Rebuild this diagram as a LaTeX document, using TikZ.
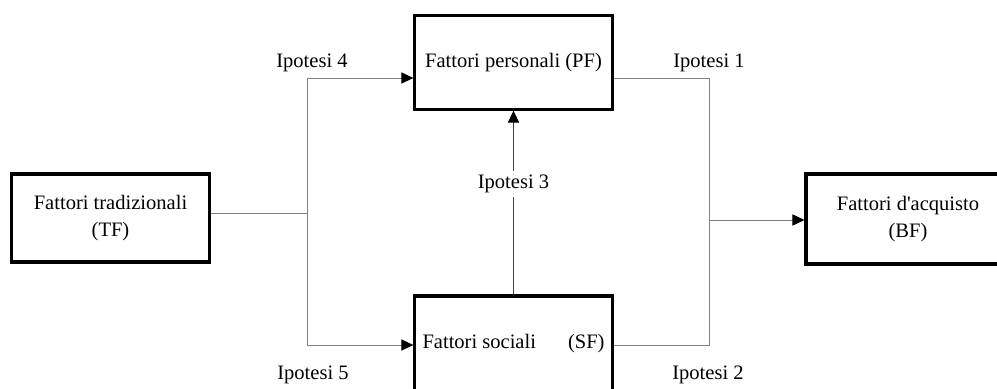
\documentclass[tikz,border=0pt]{standalone}
\usepackage{fontspec}
\setmainfont{Liberation Serif}
\usetikzlibrary{arrows.meta,positioning}
\tikzset
{
    factorbox/.style = {rectangle, draw=black, line width=2.2pt, align=center, inner sep=0pt},
    link/.style      = {draw=black!50, line width=0.7pt},
    arrowlink/.style = {-{Triangle[length=0.3cm,width=0.28cm,color=black]}}
}

\begin{document}
\begin{tikzpicture}[x=0.025cm, y=-0.025cm, font=\fontsize{14.6}{19.8}\selectfont]
\clip (0,0) rectangle (997,388);

\node (tf)	[factorbox, minimum width=4.97cm, minimum height=2.2cm]		at (110.5,218)	{Fattori tradizionali\\(TF)};
\node (pf)	[factorbox, minimum width=4.93cm, minimum height=2.33cm]	at (513.5,62.5)	{Fattori personali (PF)};
\node (sf)	[factorbox, minimum width=4.93cm, minimum height=2.4cm]		at (513.5,344)	{Fattori sociali\hspace{0.8cm}(SF)};
\node (bf)	[factorbox, minimum width=5.1cm, minimum height=2.25cm]		at (908,219)	{Fattori d\textquotesingle acquisto\\(BF)};

\coordinate (left)		at (307,213);
\coordinate (lefttop)	at (307,78);
\coordinate (leftbot)	at (307,345);
\coordinate (righttop)	at (709,78);
\coordinate (rightbot)	at (709,345);
\coordinate (rightmid)	at (709,220);

%% left side
\draw[link] (tf.east |- left) -- (left);
\draw[link, arrowlink] (left) |- (pf.west |- lefttop);
\draw[link, arrowlink] (left) |- (sf.west |- leftbot);

%% right side
\draw[link] (pf.east |- righttop) -| (rightmid);
\draw[link] (sf.east |- rightbot) -| (rightmid);
\draw[link, arrowlink] (rightmid) -- (bf.west |- rightmid);

%% middle
\draw[link, draw=black!75, arrowlink] (pf.south |- sf.north) -- node[pos=0.6, fill=white, inner sep=3pt] (h3) {Ipotesi 3} (pf.south);

%% labels
\node (h4) at (312,63)	{Ipotesi 4};
\node (h5) at (313,375)	{Ipotesi 5};
\node (h1) at (709,63)	{Ipotesi 1};
\node (h2) at (708,375)	{Ipotesi 2};
\end{tikzpicture}
\end{document}
